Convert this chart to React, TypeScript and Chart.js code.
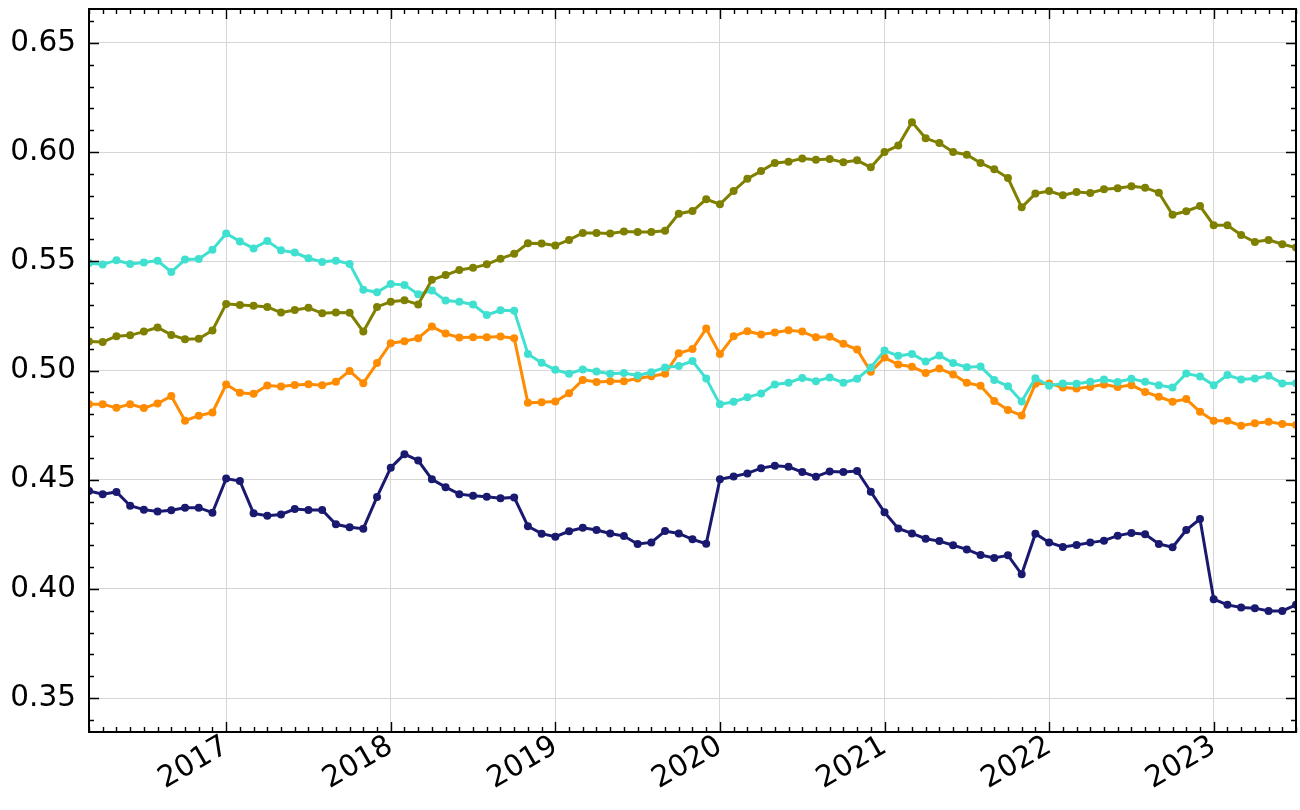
import React, { useEffect, useRef } from "react";
import { Chart, registerables } from "chart.js";

Chart.register(...registerables);

const MONTHS: string[] = [
  "2016-03", "2016-04", "2016-05", "2016-06", "2016-07", "2016-08", "2016-09", "2016-10", "2016-11", "2016-12",
  "2017-01", "2017-02", "2017-03", "2017-04", "2017-05", "2017-06", "2017-07", "2017-08", "2017-09", "2017-10", "2017-11", "2017-12",
  "2018-01", "2018-02", "2018-03", "2018-04", "2018-05", "2018-06", "2018-07", "2018-08", "2018-09", "2018-10", "2018-11", "2018-12",
  "2019-01", "2019-02", "2019-03", "2019-04", "2019-05", "2019-06", "2019-07", "2019-08", "2019-09", "2019-10", "2019-11", "2019-12",
  "2020-01", "2020-02", "2020-03", "2020-04", "2020-05", "2020-06", "2020-07", "2020-08", "2020-09", "2020-10", "2020-11", "2020-12",
  "2021-01", "2021-02", "2021-03", "2021-04", "2021-05", "2021-06", "2021-07", "2021-08", "2021-09", "2021-10", "2021-11", "2021-12",
  "2022-01", "2022-02", "2022-03", "2022-04", "2022-05", "2022-06", "2022-07", "2022-08", "2022-09", "2022-10", "2022-11", "2022-12",
  "2023-01", "2023-02", "2023-03", "2023-04", "2023-05", "2023-06", "2023-07",
];

const OLIVE_VALUES: number[] = [
  0.5133, 0.5131, 0.5157, 0.5161, 0.5178, 0.5197, 0.5163, 0.5143, 0.5145, 0.5183,
  0.5305, 0.5300, 0.5296, 0.5291, 0.5265, 0.5277, 0.5287, 0.5262, 0.5265, 0.5264, 0.5178, 0.5291,
  0.5315, 0.5322, 0.5302, 0.5415, 0.5437, 0.5460, 0.5470, 0.5486, 0.5512, 0.5534, 0.5582, 0.5581,
  0.5572, 0.5598, 0.5630, 0.5630, 0.5627, 0.5636, 0.5634, 0.5634, 0.5640, 0.5718, 0.5730, 0.5784,
  0.5761, 0.5822, 0.5878, 0.5913, 0.5950, 0.5956, 0.5971, 0.5965, 0.5968, 0.5953, 0.5962, 0.5930,
  0.6000, 0.6030, 0.6137, 0.6063, 0.6041, 0.6000, 0.5988, 0.5950, 0.5921, 0.5881, 0.5747, 0.5810,
  0.5822, 0.5802, 0.5817, 0.5813, 0.5830, 0.5834, 0.5843, 0.5837, 0.5814, 0.5713, 0.5729, 0.5753,
  0.5665, 0.5665, 0.5620, 0.5588, 0.5598, 0.5578, 0.5563,
];

const TURQUOISE_VALUES: number[] = [
  0.5492, 0.5485, 0.5505, 0.5488, 0.5494, 0.5503, 0.5451, 0.5508, 0.5510, 0.5553,
  0.5627, 0.5591, 0.5559, 0.5593, 0.5550, 0.5540, 0.5514, 0.5497, 0.5503, 0.5488, 0.5370, 0.5358,
  0.5396, 0.5392, 0.5349, 0.5366, 0.5320, 0.5315, 0.5302, 0.5254, 0.5276, 0.5274, 0.5076, 0.5035,
  0.5003, 0.4985, 0.5005, 0.4995, 0.4985, 0.4989, 0.4977, 0.4992, 0.5014, 0.5021, 0.5043, 0.4963,
  0.4845, 0.4857, 0.4877, 0.4895, 0.4936, 0.4944, 0.4966, 0.4951, 0.4968, 0.4944, 0.4962, 0.5014,
  0.5091, 0.5067, 0.5076, 0.5041, 0.5069, 0.5034, 0.5015, 0.5018, 0.4957, 0.4928, 0.4858, 0.4965,
  0.4930, 0.4941, 0.4939, 0.4948, 0.4959, 0.4947, 0.4962, 0.4948, 0.4933, 0.4922, 0.4986, 0.4973,
  0.4933, 0.4979, 0.4959, 0.4963, 0.4976, 0.4941, 0.4942,
];

const ORANGE_VALUES: number[] = [
  0.4846, 0.4846, 0.4829, 0.4846, 0.4828, 0.4849, 0.4883, 0.4770, 0.4793, 0.4808,
  0.4936, 0.4898, 0.4893, 0.4931, 0.4927, 0.4934, 0.4937, 0.4933, 0.4948, 0.4998, 0.4942, 0.5034,
  0.5125, 0.5134, 0.5148, 0.5201, 0.5169, 0.5151, 0.5152, 0.5152, 0.5156, 0.5148, 0.4852, 0.4855,
  0.4858, 0.4896, 0.4957, 0.4947, 0.4951, 0.4951, 0.4963, 0.4974, 0.4985, 0.5079, 0.5098, 0.5192,
  0.5075, 0.5157, 0.5180, 0.5165, 0.5174, 0.5184, 0.5178, 0.5152, 0.5154, 0.5122, 0.5096, 0.4994,
  0.5059, 0.5027, 0.5017, 0.4989, 0.5009, 0.4982, 0.4944, 0.4930, 0.4860, 0.4819, 0.4794, 0.4939,
  0.4941, 0.4922, 0.4918, 0.4925, 0.4936, 0.4925, 0.4933, 0.4902, 0.4880, 0.4857, 0.4869, 0.4811,
  0.4770, 0.4770, 0.4747, 0.4758, 0.4765, 0.4755, 0.4750,
];

const NAVY_VALUES: number[] = [
  0.4448, 0.4434, 0.4444, 0.4381, 0.4363, 0.4354, 0.4360, 0.4372, 0.4372, 0.4349,
  0.4505, 0.4494, 0.4346, 0.4335, 0.4341, 0.4366, 0.4361, 0.4361, 0.4296, 0.4282, 0.4276, 0.4421,
  0.4555, 0.4617, 0.4588, 0.4502, 0.4466, 0.4434, 0.4427, 0.4422, 0.4415, 0.4419, 0.4287, 0.4253,
  0.4239, 0.4264, 0.4280, 0.4270, 0.4254, 0.4242, 0.4206, 0.4213, 0.4265, 0.4254, 0.4227, 0.4207,
  0.4502, 0.4515, 0.4529, 0.4553, 0.4564, 0.4559, 0.4535, 0.4514, 0.4538, 0.4535, 0.4540, 0.4445,
  0.4351, 0.4277, 0.4254, 0.4230, 0.4219, 0.4200, 0.4181, 0.4155, 0.4142, 0.4154, 0.4067, 0.4253,
  0.4213, 0.4192, 0.4201, 0.4212, 0.4221, 0.4244, 0.4256, 0.4250, 0.4206, 0.4191, 0.4270, 0.4320,
  0.3953, 0.3927, 0.3915, 0.3912, 0.3899, 0.3899, 0.3927,
];

const YEAR_TICKS: number[] = [2017, 2018, 2019, 2020, 2021, 2022, 2023];
const Y_TICKS: number[] = [0.35, 0.4, 0.45, 0.5, 0.55, 0.6, 0.65];
const Y_MIN = 0.3345;
const Y_MAX = 0.6655;

const FONT = { family: "'DejaVu Sans', sans-serif", size: 29.5 };

function monthToNum(m: string): number {
  const [y, mo] = m.split("-").map(Number);
  return y + (mo - 1) / 12;
}

const X_VALUES = MONTHS.map(monthToNum);

function series(values: number[]) {
  return values.map((v, i) => ({ x: X_VALUES[i], y: v }));
}

const frameTicks = {
  id: "frameTicks",
  afterDraw(chart: any) {
    const { ctx, chartArea: a, scales } = chart;
    const x = scales.x;
    const y = scales.y;
    ctx.save();
    ctx.strokeStyle = "#000";
    ctx.lineWidth = 1.4;
    ctx.beginPath();
    const major = 10;
    const minor = 5;
    X_VALUES.forEach((v) => {
      const isMajor = YEAR_TICKS.some((t) => Math.abs(t - v) < 1e-6);
      const len = isMajor ? major : minor;
      const px = Math.round(x.getPixelForValue(v)) + 0.5;
      ctx.moveTo(px, a.bottom);
      ctx.lineTo(px, a.bottom - len);
      ctx.moveTo(px, a.top);
      ctx.lineTo(px, a.top + len);
    });
    for (let k = 34; k <= 66; k++) {
      const v = k / 100;
      if (v < Y_MIN || v > Y_MAX) continue;
      const isMajor = k % 5 === 0;
      const len = isMajor ? major : minor;
      const py = Math.round(y.getPixelForValue(v)) + 0.5;
      ctx.moveTo(a.left, py);
      ctx.lineTo(a.left + len, py);
      ctx.moveTo(a.right, py);
      ctx.lineTo(a.right - len, py);
    }
    ctx.stroke();
    ctx.lineWidth = 2;
    ctx.strokeRect(a.left, a.top, a.right - a.left, a.bottom - a.top);
    ctx.restore();
  },
};

export default function App() {
  const ref = useRef<HTMLCanvasElement | null>(null);

  useEffect(() => {
    if (!ref.current) return;
    const mk = (label: string, values: number[], color: string) => ({
      label,
      data: series(values),
      borderColor: color,
      backgroundColor: color,
      pointBackgroundColor: color,
      pointBorderColor: color,
      pointBorderWidth: 0,
      pointRadius: 4,
      borderWidth: 3,
      tension: 0,
    });
    const chart = new Chart(ref.current, {
      type: "line",
      data: {
        datasets: [
          mk("olive", OLIVE_VALUES, "#808000"),
          mk("turquoise", TURQUOISE_VALUES, "#40E0D0"),
          mk("darkorange", ORANGE_VALUES, "#FF8C00"),
          mk("midnightblue", NAVY_VALUES, "#191970"),
        ],
      },
      options: {
        animation: false,
        responsive: false,
        maintainAspectRatio: false,
        layout: { padding: { top: 9, right: 4, left: 0, bottom: 0 } },
        plugins: { legend: { display: false }, tooltip: { enabled: false } },
        scales: {
          x: {
            type: "linear",
            min: X_VALUES[0],
            max: X_VALUES[X_VALUES.length - 1],
            afterBuildTicks: (s: any) => {
              s.ticks = YEAR_TICKS.map((v) => ({ value: v }));
            },
            afterFit: (s: any) => {
              s.height = 78;
              s.paddingLeft = 0;
              s.paddingRight = 0;
            },
            ticks: {
              autoSkip: false,
              maxRotation: 30,
              minRotation: 30,
              padding: -3,
              color: "#000",
              font: FONT,
              callback: (v: any) => String(v),
            },
            grid: { color: "#d6d6d6", lineWidth: 1, drawTicks: false },
            border: { display: false },
          },
          y: {
            type: "linear",
            min: Y_MIN,
            max: Y_MAX,
            afterBuildTicks: (s: any) => {
              s.ticks = Y_TICKS.map((v) => ({ value: v }));
            },
            afterFit: (s: any) => {
              s.width = 89;
              s.paddingTop = 0;
              s.paddingBottom = 0;
            },
            ticks: {
              padding: 13,
              color: "#000",
              font: FONT,
              callback: (v: any) => Number(v).toFixed(2),
            },
            grid: { color: "#d6d6d6", lineWidth: 1, drawTicks: false },
            border: { display: false },
          },
        },
      },
      plugins: [frameTicks],
    });
    return () => chart.destroy();
  }, []);

  return (
    <div style={{ position: "fixed", left: 0, top: 0, width: 1300, height: 810, background: "#fff" }}>
      <canvas ref={ref} width={1300} height={810} style={{ width: 1300, height: 810 }} />
    </div>
  );
}
